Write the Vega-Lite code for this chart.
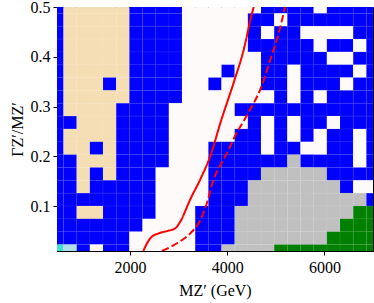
{
"$schema":"https://vega.github.io/schema/vega-lite/v6.json",
"autosize":{"type":"none"},
"padding":{"left":57,"top":7,"right":1,"bottom":52},
"width":316,"height":244,
"config":{"view":{"stroke":"#000","strokeWidth":1},
"axis":{"labelFont":"Liberation Serif","labelFontSize":16,"labelColor":"#000","titleFont":"Liberation Serif","titleFontSize":16,"titleFontWeight":"normal","titleColor":"#000","tickColor":"#000","domainColor":"#000","tickSize":4,"grid":false}},
"layer":[
{"data":{"values":[
{"m":500,"g":0.5,"c":"B"},{"m":770.8,"g":0.5,"c":"W"},{"m":1041.7,"g":0.5,"c":"W"},{"m":1312.5,"g":0.5,"c":"W"},{"m":1583.3,"g":0.5,"c":"W"},{"m":1854.2,"g":0.5,"c":"W"},{"m":2125,"g":0.5,"c":"B"},{"m":2395.8,"g":0.5,"c":"B"},{"m":2666.7,"g":0.5,"c":"B"},{"m":2937.5,"g":0.5,"c":"B"},{"m":3208.3,"g":0.5,"c":"S"},{"m":3479.2,"g":0.5,"c":"S"},{"m":3750,"g":0.5,"c":"S"},{"m":4020.8,"g":0.5,"c":"S"},{"m":4291.7,"g":0.5,"c":"S"},{"m":4562.5,"g":0.5,"c":"S"},{"m":4833.3,"g":0.5,"c":"B"},{"m":5104.2,"g":0.5,"c":"B"},{"m":5375,"g":0.5,"c":"B"},{"m":5645.8,"g":0.5,"c":"B"},{"m":5916.7,"g":0.5,"c":"S"},{"m":6187.5,"g":0.5,"c":"B"},{"m":6458.3,"g":0.5,"c":"B"},{"m":6729.2,"g":0.5,"c":"B"},{"m":7000,"g":0.5,"c":"B"},
{"m":500,"g":0.4742,"c":"B"},{"m":770.8,"g":0.4742,"c":"W"},{"m":1041.7,"g":0.4742,"c":"W"},{"m":1312.5,"g":0.4742,"c":"W"},{"m":1583.3,"g":0.4742,"c":"W"},{"m":1854.2,"g":0.4742,"c":"W"},{"m":2125,"g":0.4742,"c":"B"},{"m":2395.8,"g":0.4742,"c":"B"},{"m":2666.7,"g":0.4742,"c":"B"},{"m":2937.5,"g":0.4742,"c":"B"},{"m":3208.3,"g":0.4742,"c":"S"},{"m":3479.2,"g":0.4742,"c":"S"},{"m":3750,"g":0.4742,"c":"S"},{"m":4020.8,"g":0.4742,"c":"S"},{"m":4291.7,"g":0.4742,"c":"S"},{"m":4562.5,"g":0.4742,"c":"B"},{"m":4833.3,"g":0.4742,"c":"B"},{"m":5104.2,"g":0.4742,"c":"S"},{"m":5375,"g":0.4742,"c":"B"},{"m":5645.8,"g":0.4742,"c":"B"},{"m":5916.7,"g":0.4742,"c":"B"},{"m":6187.5,"g":0.4742,"c":"B"},{"m":6458.3,"g":0.4742,"c":"B"},{"m":6729.2,"g":0.4742,"c":"B"},{"m":7000,"g":0.4742,"c":"B"},
{"m":500,"g":0.4484,"c":"B"},{"m":770.8,"g":0.4484,"c":"W"},{"m":1041.7,"g":0.4484,"c":"W"},{"m":1312.5,"g":0.4484,"c":"W"},{"m":1583.3,"g":0.4484,"c":"W"},{"m":1854.2,"g":0.4484,"c":"W"},{"m":2125,"g":0.4484,"c":"B"},{"m":2395.8,"g":0.4484,"c":"B"},{"m":2666.7,"g":0.4484,"c":"B"},{"m":2937.5,"g":0.4484,"c":"B"},{"m":3208.3,"g":0.4484,"c":"S"},{"m":3479.2,"g":0.4484,"c":"S"},{"m":3750,"g":0.4484,"c":"S"},{"m":4020.8,"g":0.4484,"c":"S"},{"m":4291.7,"g":0.4484,"c":"S"},{"m":4562.5,"g":0.4484,"c":"B"},{"m":4833.3,"g":0.4484,"c":"S"},{"m":5104.2,"g":0.4484,"c":"B"},{"m":5375,"g":0.4484,"c":"B"},{"m":5645.8,"g":0.4484,"c":"S"},{"m":5916.7,"g":0.4484,"c":"S"},{"m":6187.5,"g":0.4484,"c":"S"},{"m":6458.3,"g":0.4484,"c":"S"},{"m":6729.2,"g":0.4484,"c":"B"},{"m":7000,"g":0.4484,"c":"B"},
{"m":500,"g":0.4226,"c":"B"},{"m":770.8,"g":0.4226,"c":"W"},{"m":1041.7,"g":0.4226,"c":"W"},{"m":1312.5,"g":0.4226,"c":"W"},{"m":1583.3,"g":0.4226,"c":"W"},{"m":1854.2,"g":0.4226,"c":"W"},{"m":2125,"g":0.4226,"c":"B"},{"m":2395.8,"g":0.4226,"c":"B"},{"m":2666.7,"g":0.4226,"c":"B"},{"m":2937.5,"g":0.4226,"c":"B"},{"m":3208.3,"g":0.4226,"c":"S"},{"m":3479.2,"g":0.4226,"c":"S"},{"m":3750,"g":0.4226,"c":"S"},{"m":4020.8,"g":0.4226,"c":"S"},{"m":4291.7,"g":0.4226,"c":"S"},{"m":4562.5,"g":0.4226,"c":"B"},{"m":4833.3,"g":0.4226,"c":"B"},{"m":5104.2,"g":0.4226,"c":"B"},{"m":5375,"g":0.4226,"c":"B"},{"m":5645.8,"g":0.4226,"c":"B"},{"m":5916.7,"g":0.4226,"c":"S"},{"m":6187.5,"g":0.4226,"c":"B"},{"m":6458.3,"g":0.4226,"c":"B"},{"m":6729.2,"g":0.4226,"c":"S"},{"m":7000,"g":0.4226,"c":"B"},
{"m":500,"g":0.3968,"c":"B"},{"m":770.8,"g":0.3968,"c":"W"},{"m":1041.7,"g":0.3968,"c":"W"},{"m":1312.5,"g":0.3968,"c":"W"},{"m":1583.3,"g":0.3968,"c":"W"},{"m":1854.2,"g":0.3968,"c":"W"},{"m":2125,"g":0.3968,"c":"B"},{"m":2395.8,"g":0.3968,"c":"B"},{"m":2666.7,"g":0.3968,"c":"B"},{"m":2937.5,"g":0.3968,"c":"B"},{"m":3208.3,"g":0.3968,"c":"S"},{"m":3479.2,"g":0.3968,"c":"S"},{"m":3750,"g":0.3968,"c":"S"},{"m":4020.8,"g":0.3968,"c":"S"},{"m":4291.7,"g":0.3968,"c":"S"},{"m":4562.5,"g":0.3968,"c":"S"},{"m":4833.3,"g":0.3968,"c":"B"},{"m":5104.2,"g":0.3968,"c":"B"},{"m":5375,"g":0.3968,"c":"B"},{"m":5645.8,"g":0.3968,"c":"B"},{"m":5916.7,"g":0.3968,"c":"B"},{"m":6187.5,"g":0.3968,"c":"S"},{"m":6458.3,"g":0.3968,"c":"S"},{"m":6729.2,"g":0.3968,"c":"B"},{"m":7000,"g":0.3968,"c":"B"},
{"m":500,"g":0.3711,"c":"B"},{"m":770.8,"g":0.3711,"c":"W"},{"m":1041.7,"g":0.3711,"c":"W"},{"m":1312.5,"g":0.3711,"c":"W"},{"m":1583.3,"g":0.3711,"c":"W"},{"m":1854.2,"g":0.3711,"c":"W"},{"m":2125,"g":0.3711,"c":"B"},{"m":2395.8,"g":0.3711,"c":"B"},{"m":2666.7,"g":0.3711,"c":"B"},{"m":2937.5,"g":0.3711,"c":"B"},{"m":3208.3,"g":0.3711,"c":"S"},{"m":3479.2,"g":0.3711,"c":"S"},{"m":3750,"g":0.3711,"c":"S"},{"m":4020.8,"g":0.3711,"c":"B"},{"m":4291.7,"g":0.3711,"c":"S"},{"m":4562.5,"g":0.3711,"c":"S"},{"m":4833.3,"g":0.3711,"c":"B"},{"m":5104.2,"g":0.3711,"c":"B"},{"m":5375,"g":0.3711,"c":"S"},{"m":5645.8,"g":0.3711,"c":"B"},{"m":5916.7,"g":0.3711,"c":"B"},{"m":6187.5,"g":0.3711,"c":"B"},{"m":6458.3,"g":0.3711,"c":"B"},{"m":6729.2,"g":0.3711,"c":"S"},{"m":7000,"g":0.3711,"c":"B"},
{"m":500,"g":0.3453,"c":"B"},{"m":770.8,"g":0.3453,"c":"W"},{"m":1041.7,"g":0.3453,"c":"W"},{"m":1312.5,"g":0.3453,"c":"W"},{"m":1583.3,"g":0.3453,"c":"B"},{"m":1854.2,"g":0.3453,"c":"W"},{"m":2125,"g":0.3453,"c":"B"},{"m":2395.8,"g":0.3453,"c":"B"},{"m":2666.7,"g":0.3453,"c":"B"},{"m":2937.5,"g":0.3453,"c":"B"},{"m":3208.3,"g":0.3453,"c":"S"},{"m":3479.2,"g":0.3453,"c":"S"},{"m":3750,"g":0.3453,"c":"B"},{"m":4020.8,"g":0.3453,"c":"S"},{"m":4291.7,"g":0.3453,"c":"S"},{"m":4562.5,"g":0.3453,"c":"S"},{"m":4833.3,"g":0.3453,"c":"B"},{"m":5104.2,"g":0.3453,"c":"B"},{"m":5375,"g":0.3453,"c":"S"},{"m":5645.8,"g":0.3453,"c":"B"},{"m":5916.7,"g":0.3453,"c":"B"},{"m":6187.5,"g":0.3453,"c":"B"},{"m":6458.3,"g":0.3453,"c":"S"},{"m":6729.2,"g":0.3453,"c":"B"},{"m":7000,"g":0.3453,"c":"B"},
{"m":500,"g":0.3195,"c":"B"},{"m":770.8,"g":0.3195,"c":"W"},{"m":1041.7,"g":0.3195,"c":"W"},{"m":1312.5,"g":0.3195,"c":"W"},{"m":1583.3,"g":0.3195,"c":"W"},{"m":1854.2,"g":0.3195,"c":"W"},{"m":2125,"g":0.3195,"c":"B"},{"m":2395.8,"g":0.3195,"c":"B"},{"m":2666.7,"g":0.3195,"c":"B"},{"m":2937.5,"g":0.3195,"c":"B"},{"m":3208.3,"g":0.3195,"c":"S"},{"m":3479.2,"g":0.3195,"c":"S"},{"m":3750,"g":0.3195,"c":"S"},{"m":4020.8,"g":0.3195,"c":"S"},{"m":4291.7,"g":0.3195,"c":"S"},{"m":4562.5,"g":0.3195,"c":"S"},{"m":4833.3,"g":0.3195,"c":"S"},{"m":5104.2,"g":0.3195,"c":"B"},{"m":5375,"g":0.3195,"c":"S"},{"m":5645.8,"g":0.3195,"c":"B"},{"m":5916.7,"g":0.3195,"c":"S"},{"m":6187.5,"g":0.3195,"c":"B"},{"m":6458.3,"g":0.3195,"c":"B"},{"m":6729.2,"g":0.3195,"c":"B"},{"m":7000,"g":0.3195,"c":"B"},
{"m":500,"g":0.2937,"c":"B"},{"m":770.8,"g":0.2937,"c":"W"},{"m":1041.7,"g":0.2937,"c":"W"},{"m":1312.5,"g":0.2937,"c":"W"},{"m":1583.3,"g":0.2937,"c":"W"},{"m":1854.2,"g":0.2937,"c":"B"},{"m":2125,"g":0.2937,"c":"B"},{"m":2395.8,"g":0.2937,"c":"B"},{"m":2666.7,"g":0.2937,"c":"B"},{"m":2937.5,"g":0.2937,"c":"S"},{"m":3208.3,"g":0.2937,"c":"S"},{"m":3479.2,"g":0.2937,"c":"S"},{"m":3750,"g":0.2937,"c":"S"},{"m":4020.8,"g":0.2937,"c":"S"},{"m":4291.7,"g":0.2937,"c":"B"},{"m":4562.5,"g":0.2937,"c":"B"},{"m":4833.3,"g":0.2937,"c":"B"},{"m":5104.2,"g":0.2937,"c":"B"},{"m":5375,"g":0.2937,"c":"B"},{"m":5645.8,"g":0.2937,"c":"B"},{"m":5916.7,"g":0.2937,"c":"B"},{"m":6187.5,"g":0.2937,"c":"B"},{"m":6458.3,"g":0.2937,"c":"B"},{"m":6729.2,"g":0.2937,"c":"B"},{"m":7000,"g":0.2937,"c":"B"},
{"m":500,"g":0.2679,"c":"B"},{"m":770.8,"g":0.2679,"c":"B"},{"m":1041.7,"g":0.2679,"c":"W"},{"m":1312.5,"g":0.2679,"c":"W"},{"m":1583.3,"g":0.2679,"c":"W"},{"m":1854.2,"g":0.2679,"c":"B"},{"m":2125,"g":0.2679,"c":"B"},{"m":2395.8,"g":0.2679,"c":"B"},{"m":2666.7,"g":0.2679,"c":"B"},{"m":2937.5,"g":0.2679,"c":"S"},{"m":3208.3,"g":0.2679,"c":"S"},{"m":3479.2,"g":0.2679,"c":"S"},{"m":3750,"g":0.2679,"c":"S"},{"m":4020.8,"g":0.2679,"c":"S"},{"m":4291.7,"g":0.2679,"c":"S"},{"m":4562.5,"g":0.2679,"c":"B"},{"m":4833.3,"g":0.2679,"c":"S"},{"m":5104.2,"g":0.2679,"c":"B"},{"m":5375,"g":0.2679,"c":"S"},{"m":5645.8,"g":0.2679,"c":"B"},{"m":5916.7,"g":0.2679,"c":"B"},{"m":6187.5,"g":0.2679,"c":"S"},{"m":6458.3,"g":0.2679,"c":"B"},{"m":6729.2,"g":0.2679,"c":"B"},{"m":7000,"g":0.2679,"c":"B"},
{"m":500,"g":0.2421,"c":"B"},{"m":770.8,"g":0.2421,"c":"W"},{"m":1041.7,"g":0.2421,"c":"W"},{"m":1312.5,"g":0.2421,"c":"W"},{"m":1583.3,"g":0.2421,"c":"W"},{"m":1854.2,"g":0.2421,"c":"B"},{"m":2125,"g":0.2421,"c":"B"},{"m":2395.8,"g":0.2421,"c":"B"},{"m":2666.7,"g":0.2421,"c":"B"},{"m":2937.5,"g":0.2421,"c":"S"},{"m":3208.3,"g":0.2421,"c":"S"},{"m":3479.2,"g":0.2421,"c":"S"},{"m":3750,"g":0.2421,"c":"S"},{"m":4020.8,"g":0.2421,"c":"S"},{"m":4291.7,"g":0.2421,"c":"B"},{"m":4562.5,"g":0.2421,"c":"B"},{"m":4833.3,"g":0.2421,"c":"S"},{"m":5104.2,"g":0.2421,"c":"B"},{"m":5375,"g":0.2421,"c":"S"},{"m":5645.8,"g":0.2421,"c":"B"},{"m":5916.7,"g":0.2421,"c":"S"},{"m":6187.5,"g":0.2421,"c":"B"},{"m":6458.3,"g":0.2421,"c":"B"},{"m":6729.2,"g":0.2421,"c":"S"},{"m":7000,"g":0.2421,"c":"B"},
{"m":500,"g":0.2163,"c":"B"},{"m":770.8,"g":0.2163,"c":"W"},{"m":1041.7,"g":0.2163,"c":"W"},{"m":1312.5,"g":0.2163,"c":"B"},{"m":1583.3,"g":0.2163,"c":"W"},{"m":1854.2,"g":0.2163,"c":"B"},{"m":2125,"g":0.2163,"c":"B"},{"m":2395.8,"g":0.2163,"c":"B"},{"m":2666.7,"g":0.2163,"c":"B"},{"m":2937.5,"g":0.2163,"c":"S"},{"m":3208.3,"g":0.2163,"c":"S"},{"m":3479.2,"g":0.2163,"c":"S"},{"m":3750,"g":0.2163,"c":"B"},{"m":4020.8,"g":0.2163,"c":"B"},{"m":4291.7,"g":0.2163,"c":"B"},{"m":4562.5,"g":0.2163,"c":"B"},{"m":4833.3,"g":0.2163,"c":"S"},{"m":5104.2,"g":0.2163,"c":"B"},{"m":5375,"g":0.2163,"c":"B"},{"m":5645.8,"g":0.2163,"c":"S"},{"m":5916.7,"g":0.2163,"c":"S"},{"m":6187.5,"g":0.2163,"c":"B"},{"m":6458.3,"g":0.2163,"c":"B"},{"m":6729.2,"g":0.2163,"c":"S"},{"m":7000,"g":0.2163,"c":"B"},
{"m":500,"g":0.1905,"c":"B"},{"m":770.8,"g":0.1905,"c":"B"},{"m":1041.7,"g":0.1905,"c":"W"},{"m":1312.5,"g":0.1905,"c":"W"},{"m":1583.3,"g":0.1905,"c":"W"},{"m":1854.2,"g":0.1905,"c":"B"},{"m":2125,"g":0.1905,"c":"B"},{"m":2395.8,"g":0.1905,"c":"B"},{"m":2666.7,"g":0.1905,"c":"B"},{"m":2937.5,"g":0.1905,"c":"S"},{"m":3208.3,"g":0.1905,"c":"S"},{"m":3479.2,"g":0.1905,"c":"S"},{"m":3750,"g":0.1905,"c":"B"},{"m":4020.8,"g":0.1905,"c":"B"},{"m":4291.7,"g":0.1905,"c":"B"},{"m":4562.5,"g":0.1905,"c":"B"},{"m":4833.3,"g":0.1905,"c":"B"},{"m":5104.2,"g":0.1905,"c":"B"},{"m":5375,"g":0.1905,"c":"G"},{"m":5645.8,"g":0.1905,"c":"B"},{"m":5916.7,"g":0.1905,"c":"B"},{"m":6187.5,"g":0.1905,"c":"B"},{"m":6458.3,"g":0.1905,"c":"B"},{"m":6729.2,"g":0.1905,"c":"S"},{"m":7000,"g":0.1905,"c":"B"},
{"m":500,"g":0.1647,"c":"B"},{"m":770.8,"g":0.1647,"c":"B"},{"m":1041.7,"g":0.1647,"c":"W"},{"m":1312.5,"g":0.1647,"c":"B"},{"m":1583.3,"g":0.1647,"c":"W"},{"m":1854.2,"g":0.1647,"c":"B"},{"m":2125,"g":0.1647,"c":"B"},{"m":2395.8,"g":0.1647,"c":"B"},{"m":2666.7,"g":0.1647,"c":"S"},{"m":2937.5,"g":0.1647,"c":"S"},{"m":3208.3,"g":0.1647,"c":"S"},{"m":3479.2,"g":0.1647,"c":"S"},{"m":3750,"g":0.1647,"c":"B"},{"m":4020.8,"g":0.1647,"c":"B"},{"m":4291.7,"g":0.1647,"c":"B"},{"m":4562.5,"g":0.1647,"c":"B"},{"m":4833.3,"g":0.1647,"c":"G"},{"m":5104.2,"g":0.1647,"c":"G"},{"m":5375,"g":0.1647,"c":"G"},{"m":5645.8,"g":0.1647,"c":"G"},{"m":5916.7,"g":0.1647,"c":"G"},{"m":6187.5,"g":0.1647,"c":"B"},{"m":6458.3,"g":0.1647,"c":"B"},{"m":6729.2,"g":0.1647,"c":"B"},{"m":7000,"g":0.1647,"c":"B"},
{"m":500,"g":0.1389,"c":"B"},{"m":770.8,"g":0.1389,"c":"B"},{"m":1041.7,"g":0.1389,"c":"W"},{"m":1312.5,"g":0.1389,"c":"B"},{"m":1583.3,"g":0.1389,"c":"B"},{"m":1854.2,"g":0.1389,"c":"B"},{"m":2125,"g":0.1389,"c":"B"},{"m":2395.8,"g":0.1389,"c":"B"},{"m":2666.7,"g":0.1389,"c":"S"},{"m":2937.5,"g":0.1389,"c":"S"},{"m":3208.3,"g":0.1389,"c":"S"},{"m":3479.2,"g":0.1389,"c":"S"},{"m":3750,"g":0.1389,"c":"B"},{"m":4020.8,"g":0.1389,"c":"B"},{"m":4291.7,"g":0.1389,"c":"B"},{"m":4562.5,"g":0.1389,"c":"G"},{"m":4833.3,"g":0.1389,"c":"G"},{"m":5104.2,"g":0.1389,"c":"G"},{"m":5375,"g":0.1389,"c":"G"},{"m":5645.8,"g":0.1389,"c":"G"},{"m":5916.7,"g":0.1389,"c":"G"},{"m":6187.5,"g":0.1389,"c":"G"},{"m":6458.3,"g":0.1389,"c":"B"},{"m":6729.2,"g":0.1389,"c":"S"},{"m":7000,"g":0.1389,"c":"S"},
{"m":500,"g":0.1132,"c":"B"},{"m":770.8,"g":0.1132,"c":"B"},{"m":1041.7,"g":0.1132,"c":"B"},{"m":1312.5,"g":0.1132,"c":"B"},{"m":1583.3,"g":0.1132,"c":"B"},{"m":1854.2,"g":0.1132,"c":"B"},{"m":2125,"g":0.1132,"c":"B"},{"m":2395.8,"g":0.1132,"c":"B"},{"m":2666.7,"g":0.1132,"c":"S"},{"m":2937.5,"g":0.1132,"c":"S"},{"m":3208.3,"g":0.1132,"c":"S"},{"m":3479.2,"g":0.1132,"c":"S"},{"m":3750,"g":0.1132,"c":"B"},{"m":4020.8,"g":0.1132,"c":"B"},{"m":4291.7,"g":0.1132,"c":"B"},{"m":4562.5,"g":0.1132,"c":"G"},{"m":4833.3,"g":0.1132,"c":"G"},{"m":5104.2,"g":0.1132,"c":"G"},{"m":5375,"g":0.1132,"c":"G"},{"m":5645.8,"g":0.1132,"c":"G"},{"m":5916.7,"g":0.1132,"c":"G"},{"m":6187.5,"g":0.1132,"c":"G"},{"m":6458.3,"g":0.1132,"c":"G"},{"m":6729.2,"g":0.1132,"c":"G"},{"m":7000,"g":0.1132,"c":"B"},
{"m":500,"g":0.0874,"c":"B"},{"m":770.8,"g":0.0874,"c":"B"},{"m":1041.7,"g":0.0874,"c":"W"},{"m":1312.5,"g":0.0874,"c":"W"},{"m":1583.3,"g":0.0874,"c":"B"},{"m":1854.2,"g":0.0874,"c":"B"},{"m":2125,"g":0.0874,"c":"B"},{"m":2395.8,"g":0.0874,"c":"B"},{"m":2666.7,"g":0.0874,"c":"S"},{"m":2937.5,"g":0.0874,"c":"S"},{"m":3208.3,"g":0.0874,"c":"S"},{"m":3479.2,"g":0.0874,"c":"B"},{"m":3750,"g":0.0874,"c":"B"},{"m":4020.8,"g":0.0874,"c":"B"},{"m":4291.7,"g":0.0874,"c":"G"},{"m":4562.5,"g":0.0874,"c":"G"},{"m":4833.3,"g":0.0874,"c":"G"},{"m":5104.2,"g":0.0874,"c":"G"},{"m":5375,"g":0.0874,"c":"G"},{"m":5645.8,"g":0.0874,"c":"G"},{"m":5916.7,"g":0.0874,"c":"G"},{"m":6187.5,"g":0.0874,"c":"G"},{"m":6458.3,"g":0.0874,"c":"G"},{"m":6729.2,"g":0.0874,"c":"N"},{"m":7000,"g":0.0874,"c":"N"},
{"m":500,"g":0.0616,"c":"B"},{"m":770.8,"g":0.0616,"c":"B"},{"m":1041.7,"g":0.0616,"c":"B"},{"m":1312.5,"g":0.0616,"c":"B"},{"m":1583.3,"g":0.0616,"c":"B"},{"m":1854.2,"g":0.0616,"c":"B"},{"m":2125,"g":0.0616,"c":"B"},{"m":2395.8,"g":0.0616,"c":"S"},{"m":2666.7,"g":0.0616,"c":"S"},{"m":2937.5,"g":0.0616,"c":"S"},{"m":3208.3,"g":0.0616,"c":"S"},{"m":3479.2,"g":0.0616,"c":"B"},{"m":3750,"g":0.0616,"c":"B"},{"m":4020.8,"g":0.0616,"c":"B"},{"m":4291.7,"g":0.0616,"c":"G"},{"m":4562.5,"g":0.0616,"c":"G"},{"m":4833.3,"g":0.0616,"c":"G"},{"m":5104.2,"g":0.0616,"c":"G"},{"m":5375,"g":0.0616,"c":"G"},{"m":5645.8,"g":0.0616,"c":"G"},{"m":5916.7,"g":0.0616,"c":"G"},{"m":6187.5,"g":0.0616,"c":"G"},{"m":6458.3,"g":0.0616,"c":"N"},{"m":6729.2,"g":0.0616,"c":"N"},{"m":7000,"g":0.0616,"c":"N"},
{"m":500,"g":0.0358,"c":"B"},{"m":770.8,"g":0.0358,"c":"B"},{"m":1041.7,"g":0.0358,"c":"B"},{"m":1312.5,"g":0.0358,"c":"B"},{"m":1583.3,"g":0.0358,"c":"B"},{"m":1854.2,"g":0.0358,"c":"B"},{"m":2125,"g":0.0358,"c":"S"},{"m":2395.8,"g":0.0358,"c":"S"},{"m":2666.7,"g":0.0358,"c":"S"},{"m":2937.5,"g":0.0358,"c":"S"},{"m":3208.3,"g":0.0358,"c":"S"},{"m":3479.2,"g":0.0358,"c":"B"},{"m":3750,"g":0.0358,"c":"B"},{"m":4020.8,"g":0.0358,"c":"B"},{"m":4291.7,"g":0.0358,"c":"G"},{"m":4562.5,"g":0.0358,"c":"G"},{"m":4833.3,"g":0.0358,"c":"G"},{"m":5104.2,"g":0.0358,"c":"G"},{"m":5375,"g":0.0358,"c":"G"},{"m":5645.8,"g":0.0358,"c":"G"},{"m":5916.7,"g":0.0358,"c":"G"},{"m":6187.5,"g":0.0358,"c":"N"},{"m":6458.3,"g":0.0358,"c":"N"},{"m":6729.2,"g":0.0358,"c":"N"},{"m":7000,"g":0.0358,"c":"N"},
{"m":500,"g":0.01,"c":"T"},{"m":770.8,"g":0.01,"c":"L"},{"m":1041.7,"g":0.01,"c":"B"},{"m":1312.5,"g":0.01,"c":"S"},{"m":1583.3,"g":0.01,"c":"B"},{"m":1854.2,"g":0.01,"c":"B"},{"m":2125,"g":0.01,"c":"S"},{"m":2395.8,"g":0.01,"c":"S"},{"m":2666.7,"g":0.01,"c":"S"},{"m":2937.5,"g":0.01,"c":"S"},{"m":3208.3,"g":0.01,"c":"S"},{"m":3479.2,"g":0.01,"c":"B"},{"m":3750,"g":0.01,"c":"B"},{"m":4020.8,"g":0.01,"c":"G"},{"m":4291.7,"g":0.01,"c":"G"},{"m":4562.5,"g":0.01,"c":"G"},{"m":4833.3,"g":0.01,"c":"G"},{"m":5104.2,"g":0.01,"c":"N"},{"m":5375,"g":0.01,"c":"N"},{"m":5645.8,"g":0.01,"c":"N"},{"m":5916.7,"g":0.01,"c":"N"},{"m":6187.5,"g":0.01,"c":"N"},{"m":6458.3,"g":0.01,"c":"N"},{"m":6729.2,"g":0.01,"c":"N"},{"m":7000,"g":0.01,"c":"N"}
]},
"mark":{"type":"rect","width":13.3,"height":13,"clip":true,"stroke":"#ffffff","strokeOpacity":0.12,"strokeWidth":0.6},
"encoding":{
"x":{"field":"m","type":"quantitative","scale":{"domain":[500,7000],"nice":false,"zero":false},"axis":{"values":[2000,4000,6000],"format":"d","title":"MZ′ (GeV)","labelPadding":4,"titlePadding":7}},
"y":{"field":"g","type":"quantitative","scale":{"domain":[0.01,0.5],"nice":false,"zero":false},"axis":{"values":[0.1,0.2,0.3,0.4,0.5],"format":".1f","title":"ΓZ′/MZ′","labelPadding":3,"titlePadding":5}},
"color":{"field":"c","type":"nominal","legend":null,"scale":{"domain":["B","W","S","G","N","T","L"],"range":["#0000ff","#f5deb3","#fffafa","#c0c0c0","#008000","#40e0d0","#b0e0e6"]}}
}},
{"data":{"values":[
{"s":"solid","m":2275,"g":0.01},{"s":"solid","m":2419,"g":0.0355},{"s":"solid","m":2590,"g":0.0455},{"s":"solid","m":2763,"g":0.05},{"s":"solid","m":2933,"g":0.0556},{"s":"solid","m":3036,"g":0.069},{"s":"solid","m":3242,"g":0.114},{"s":"solid","m":3448,"g":0.154},{"s":"solid","m":3653,"g":0.2006},{"s":"solid","m":3873,"g":0.271},{"s":"solid","m":4147,"g":0.352},{"s":"solid","m":4353,"g":0.419},{"s":"solid","m":4456,"g":0.465},{"s":"solid","m":4545,"g":0.5},
{"s":"dashed","m":2660,"g":0.01},{"s":"dashed","m":2968,"g":0.0255},{"s":"dashed","m":3242,"g":0.0455},{"s":"dashed","m":3448,"g":0.072},{"s":"dashed","m":3598,"g":0.111},{"s":"dashed","m":3721,"g":0.154},{"s":"dashed","m":3873,"g":0.1845},{"s":"dashed","m":3997,"g":0.207},{"s":"dashed","m":4147,"g":0.238},{"s":"dashed","m":4421,"g":0.285},{"s":"dashed","m":4696,"g":0.338},{"s":"dashed","m":4902,"g":0.3985},{"s":"dashed","m":5073,"g":0.452},{"s":"dashed","m":5190,"g":0.5}
]},
"mark":{"type":"line","color":"#ff0000","strokeWidth":2,"clip":true,"interpolate":"monotone"},
"encoding":{
"x":{"field":"m","type":"quantitative","scale":{"domain":[500,7000],"nice":false,"zero":false}},
"y":{"field":"g","type":"quantitative","scale":{"domain":[0.01,0.5],"nice":false,"zero":false}},
"detail":{"field":"s","type":"nominal"},
"strokeDash":{"field":"s","type":"nominal","legend":null,"scale":{"domain":["solid","dashed"],"range":[[1,0],[7.4,3.2]]}}
}}
]
}
